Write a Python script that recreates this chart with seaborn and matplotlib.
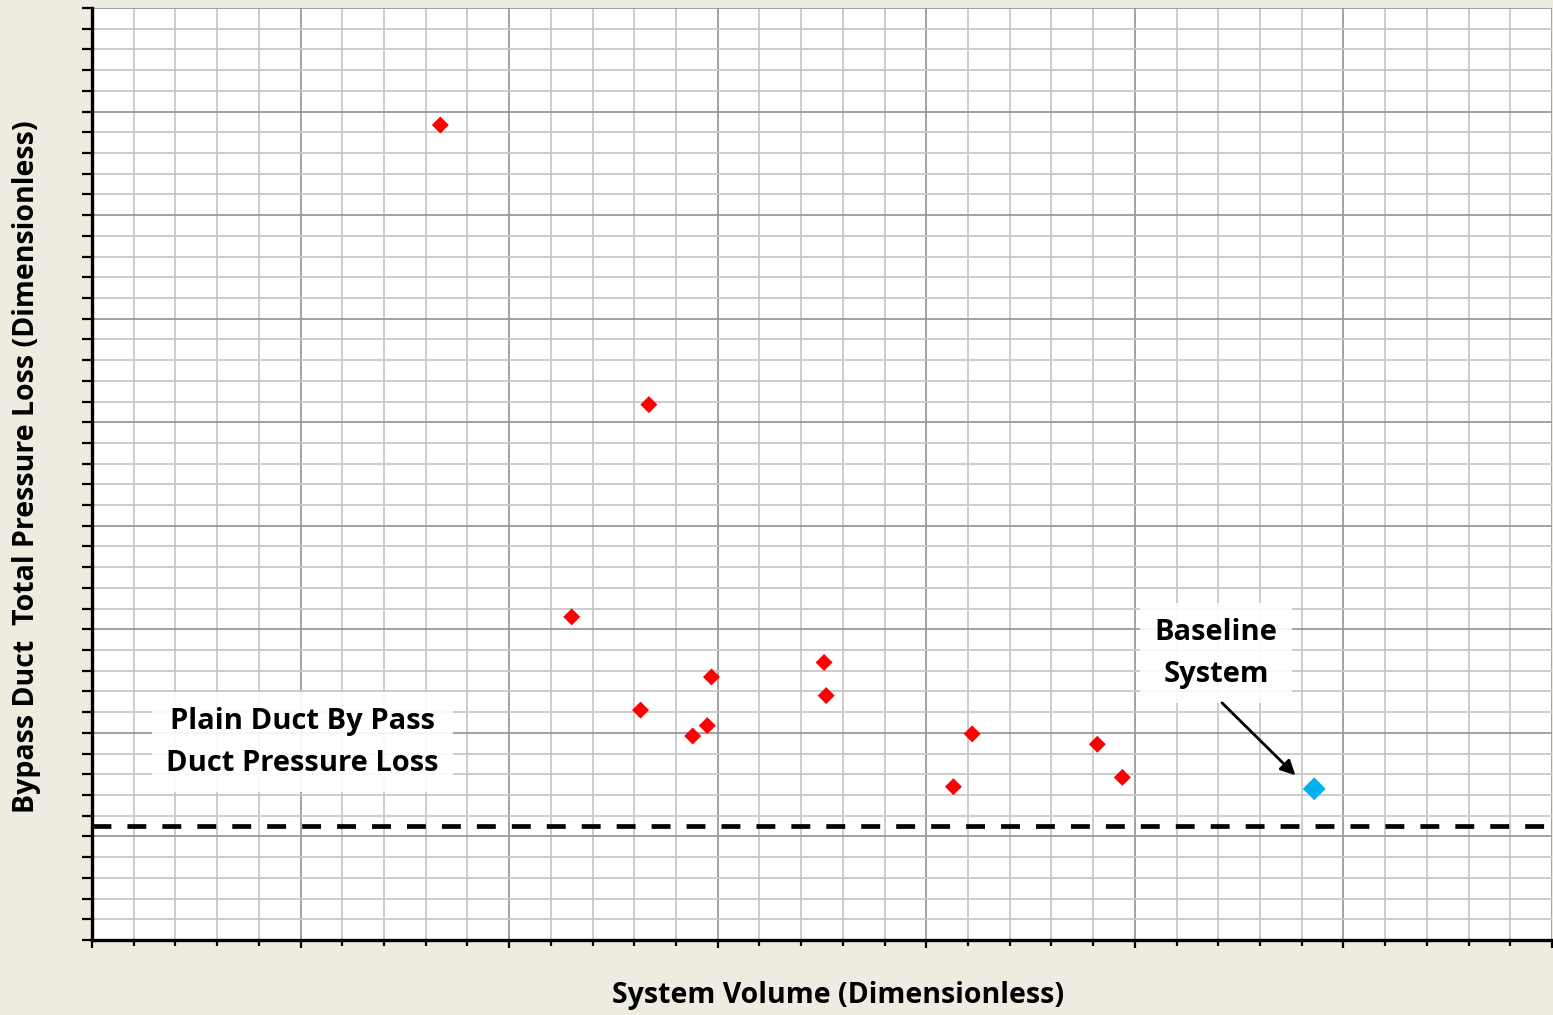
import numpy as np
import pandas as pd
import matplotlib
matplotlib.use("Agg")
import matplotlib.pyplot as plt
from matplotlib.ticker import MultipleLocator
import seaborn as sns

# ── data (dimensionless) ───────────────────────────────────────────────────
volume = [1.67, 2.67, 2.30, 2.97, 2.63, 2.95, 2.88, 3.51, 3.52, 4.22, 4.13, 4.82, 4.94]
pressure_loss = [7.87, 5.17, 3.12, 2.54, 2.22, 2.07, 1.97, 2.68, 2.36, 1.99, 1.48, 1.89, 1.57]
baseline_volume = [5.86]
baseline_loss = [1.46]
plain_duct_loss = 1.10

BG = "#EEECE1"

sns.set_style("white")
plt.rcParams["font.family"] = ["Open Sans", "DejaVu Sans"]
plt.rcParams["text.color"] = "black"

fig = plt.figure(figsize=(15.53, 10.15), dpi=100, facecolor=BG)
ax = fig.add_axes([92 / 1553, 1 - 940 / 1015, 1460 / 1553, 932 / 1015])
ax.set_facecolor("white")

df = pd.DataFrame({"volume": volume, "loss": pressure_loss})
base = pd.DataFrame({"volume": baseline_volume, "loss": baseline_loss})

sns.scatterplot(data=df, x="volume", y="loss", marker="D", s=75, color="#FF0000",
                edgecolor="none", ax=ax, zorder=4)
sns.scatterplot(data=base, x="volume", y="loss", marker="D", s=135, color="#00B0F0",
                edgecolor="none", ax=ax, zorder=4)

ax.axhline(plain_duct_loss, color="black", lw=3.4, linestyle=(0, (4.0, 3.4)), zorder=3)

ax.set_xlim(0, 7)
ax.set_ylim(0, 9)
ax.xaxis.set_major_locator(MultipleLocator(1))
ax.xaxis.set_minor_locator(MultipleLocator(0.2))
ax.yaxis.set_major_locator(MultipleLocator(1))
ax.yaxis.set_minor_locator(MultipleLocator(0.2))
ax.grid(which="minor", color="#C8C8C8", lw=1.3, zorder=0)
ax.grid(which="major", color="#9A9A9A", lw=1.3, zorder=0)
ax.set_axisbelow(True)

ax.tick_params(which="both", direction="out", labelbottom=False, labelleft=False,
               bottom=True, left=True, width=1.6, color="black")
ax.tick_params(axis="x", which="major", length=6)
ax.tick_params(axis="x", which="minor", length=4)
ax.tick_params(axis="y", which="both", length=7)

for side in ("top", "right"):
    ax.spines[side].set_visible(False)
for side in ("left", "bottom"):
    ax.spines[side].set_linewidth(2.4)
    ax.spines[side].set_color("black")
ax.set_xlabel("")
ax.set_ylabel("")

# axis titles placed in figure pixels like the original
fig.text(838 / 1553, 1 - 995 / 1015, "System Volume (Dimensionless)", ha="center", va="center",
         fontsize=20.5, fontweight="bold", color="black")
fig.text(27 / 1553, 1 - 467 / 1015, "Bypass Duct  Total Pressure Loss (Dimensionless)",
         ha="center", va="center", rotation=90, fontsize=20.5, fontweight="bold", color="black")

box = dict(boxstyle="square,pad=0.5", facecolor="white", edgecolor="none", alpha=0.9)
ax.text(1.01, 1.91, "Plain Duct By Pass\nDuct Pressure Loss", ha="center", va="center",
        fontsize=21, fontweight="bold", linespacing=1.6, bbox=box, zorder=5, color="black")
ax.text(5.39, 2.77, "Baseline\nSystem", ha="center", va="center", fontsize=21,
        fontweight="bold", linespacing=1.6, bbox=box, zorder=5, color="black")
ax.annotate("", xy=(5.77, 1.59), xytext=(5.418, 2.29), zorder=5,
            arrowprops=dict(arrowstyle="-|>", color="black", lw=2, mutation_scale=22,
                            shrinkA=0, shrinkB=0))

fig.savefig("out.png", dpi=100, facecolor=BG)
